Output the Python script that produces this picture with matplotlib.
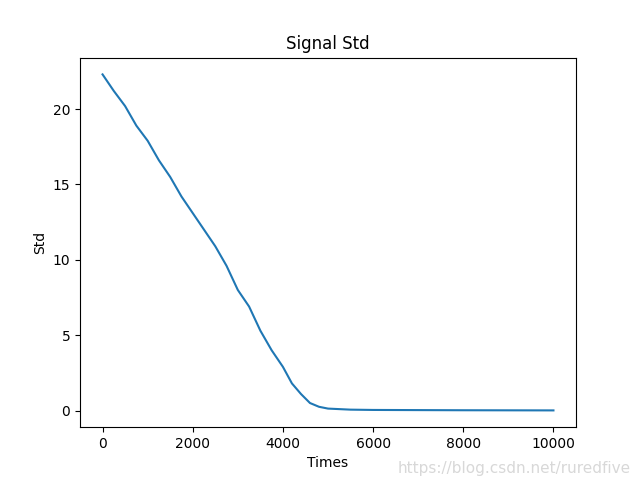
import matplotlib
matplotlib.use("Agg")
import matplotlib.pyplot as plt

times = [0, 250, 500, 750, 1000, 1250, 1500, 1750, 2000, 2250, 2500, 2750, 3000,
         3250, 3500, 3750, 4000, 4200, 4400, 4600, 4800, 5000, 5500, 6000, 7000, 8000, 10000]
std = [22.3, 21.2, 20.2, 18.9, 17.9, 16.6, 15.5, 14.2, 13.1, 12.0, 10.9, 9.6, 8.0,
       6.9, 5.3, 4.0, 2.9, 1.8, 1.1, 0.5, 0.25, 0.13, 0.06, 0.04, 0.03, 0.02, 0.01]

fig, ax = plt.subplots(figsize=(6.4, 4.8), dpi=100)
ax.plot(times, std)
ax.set_title("Signal Std")
ax.set_xlabel("Times")
ax.set_ylabel("Std")
fig.text(0.985, 0.025, "https://blog.csdn.net/ruredfive", ha="right", va="center",
         color="#d8d8d8", fontsize=11)
fig.savefig("out.png", dpi=100)
